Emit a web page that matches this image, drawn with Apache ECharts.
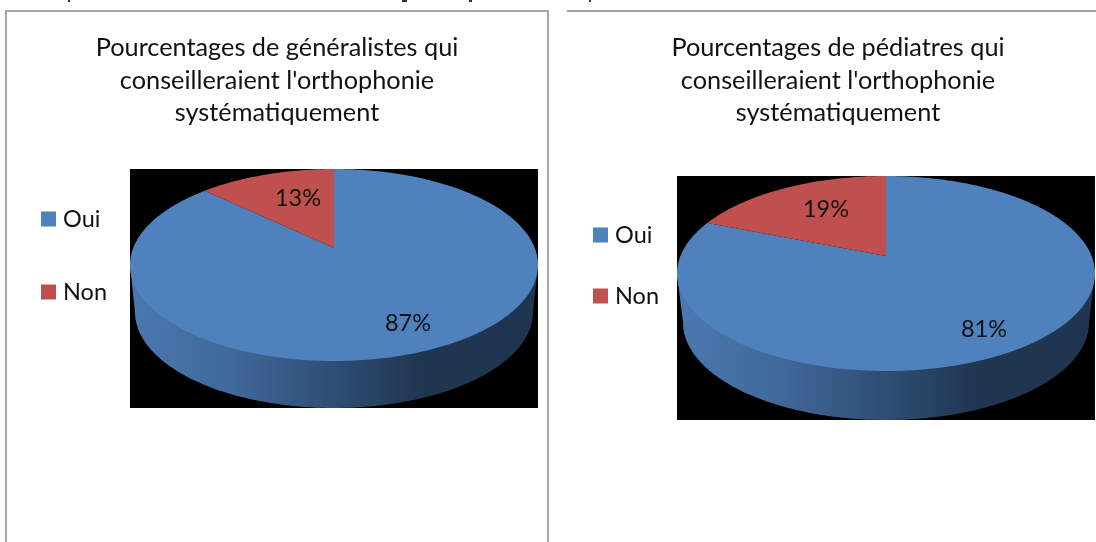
<!DOCTYPE html>
<html>
<head>
<meta charset="utf-8">
<style>html,body{margin:0;padding:0;background:#fff}#c{width:1096px;height:542px}</style>
<script src="https://cdn.jsdelivr.net/npm/echarts@6/dist/echarts.min.js"></script>
</head>
<body>
<div id="c"></div>
<script>
const categories = ['Oui', 'Non'];
const generalistes = [87, 13];
const pediatres = [81, 19];
const titleGeneralistes = "Pourcentages de généralistes qui\nconseilleraient l'orthophonie\nsystématiquement";
const titlePediatres = "Pourcentages de pédiatres qui\nconseilleraient l'orthophonie\nsystématiquement";
const colors = ['#4F81BD', '#C0504D'];

const FONT = 'Lato, "Open Sans", sans-serif';
const TEXT = '#111111';

// pie layouts (perspective ellipse: top face, lower face, apex, label anchors)
const layouts = [
  { values: generalistes, box: [130, 169, 408, 239], cx: 334, cy: 265, rx: 204, ry: 96, apexY: 248,
    rx2: 199, cy2: 312, labels: [[408, 323], [298, 198]] },
  { values: pediatres, box: [677, 176, 418, 244], cx: 886, cy: 273.5, rx: 209, ry: 97.5, apexY: 256,
    rx2: 203, cy2: 322.5, labels: [[984, 329], [826, 209]] }
];

function edgePoint(l, frac) {
  const th = frac * 2 * Math.PI, k = l.ry / l.rx;
  const dx = Math.sin(th), dy = -Math.cos(th) * k, oy = l.apexY - l.cy;
  const a = dx * dx / (l.rx * l.rx) + dy * dy / (l.ry * l.ry);
  const b = 2 * oy * dy / (l.ry * l.ry);
  const c = oy * oy / (l.ry * l.ry) - 1;
  const t = (-b + Math.sqrt(b * b - 4 * a * c)) / (2 * a);
  return [l.cx + dx * t, l.apexY + dy * t];
}

function sidePoints(l) {
  const pts = [[l.cx - l.rx, l.cy]];
  for (let i = 0; i <= 180; i++) {
    const a = Math.PI * i / 180;
    pts.push([l.cx - l.rx2 * Math.cos(a), l.cy2 + l.ry * Math.sin(a)]);
  }
  pts.push([l.cx + l.rx, l.cy]);
  return pts;
}

function sliceRender(l, idx) {
  return function () {
    const total = l.values.reduce((s, v) => s + v, 0);
    const from = l.values.slice(0, idx).reduce((s, v) => s + v, 0) / total;
    const to = from + l.values[idx] / total;
    const pts = [[l.cx, l.apexY]];
    const n = Math.max(8, Math.round((to - from) * 360));
    for (let i = 0; i <= n; i++) pts.push(edgePoint(l, from + (to - from) * i / n));
    const children = [];
    if (idx === 0) {
      children.push({
        type: 'polygon', shape: { points: sidePoints(l) },
        style: {
          fill: {
            type: 'linear', x: 0, y: 0, x2: 1, y2: 0,
            colorStops: [
              { offset: 0, color: '#4A79AF' }, { offset: 0.25, color: '#40689A' },
              { offset: 0.5, color: '#2E4E73' }, { offset: 0.72, color: '#1F3550' },
              { offset: 1, color: '#1F3550' }
            ]
          }
        }
      });
    }
    children.push({ type: 'polygon', shape: { points: pts }, style: { fill: colors[idx] } });
    children.push({
      type: 'text', z2: 10,
      style: {
        x: l.labels[idx][0], y: l.labels[idx][1], text: l.values[idx] + '%',
        fill: TEXT, font: '23.5px ' + FONT, align: 'center', verticalAlign: 'middle'
      }
    });
    return { type: 'group', children };
  };
}

const series = [];
layouts.forEach(l => {
  categories.forEach((name, idx) => {
    series.push({
      type: 'custom', name, coordinateSystem: 'none', silent: true,
      itemStyle: { color: colors[idx] },
      data: [l.values[idx]],
      renderItem: sliceRender(l, idx)
    });
  });
});

const graphic = [
  { type: 'polyline', z: 0, shape: { points: [[6, 542], [6, 11], [548, 11], [548, 542]] }, style: { fill: null, stroke: '#a6a6a6', lineWidth: 2 } },
  { type: 'line', z: 0, shape: { x1: 567, y1: 11, x2: 1096, y2: 11 }, style: { stroke: '#a0a0a0', lineWidth: 2 } }
];
layouts.forEach(l => graphic.push({
  type: 'rect', z: 0, shape: { x: l.box[0], y: l.box[1], width: l.box[2], height: l.box[3] }, style: { fill: '#000' }
}));
// descender fragments of the cropped line of text above the charts
[[68, 2], [402, 5], [469, 3], [589, 2]].forEach(m => graphic.push({
  type: 'rect', z: 0, shape: { x: m[0], y: 0, width: m[1], height: 2 }, style: { fill: '#333' }
}));

const legendBase = {
  orient: 'vertical', icon: 'rect', itemWidth: 15, itemHeight: 15, padding: 0,
  selectedMode: false, data: categories,
  textStyle: { fontFamily: FONT, fontSize: 23.5, color: TEXT, lineHeight: 15, padding: [0, 0, 0, 2] }
};
const titleText = { fontFamily: FONT, fontSize: 25.3, fontWeight: 'normal', color: TEXT, lineHeight: 32.5 };

const chart = echarts.init(document.getElementById('c'), null, { renderer: 'canvas' });
chart.setOption({
  animation: false,
  backgroundColor: '#fff',
  title: [
    { text: titleGeneralistes, left: 277, top: 32, textAlign: 'center', padding: 0, textStyle: titleText },
    { text: titlePediatres, left: 838, top: 32, textAlign: 'center', padding: 0, textStyle: titleText }
  ],
  legend: [
    Object.assign({}, legendBase, { left: 41, top: 207, itemGap: 49 }),
    Object.assign({}, legendBase, { left: 593, top: 223, itemGap: 37 })
  ],
  graphic,
  series
});
</script>
</body>
</html>
